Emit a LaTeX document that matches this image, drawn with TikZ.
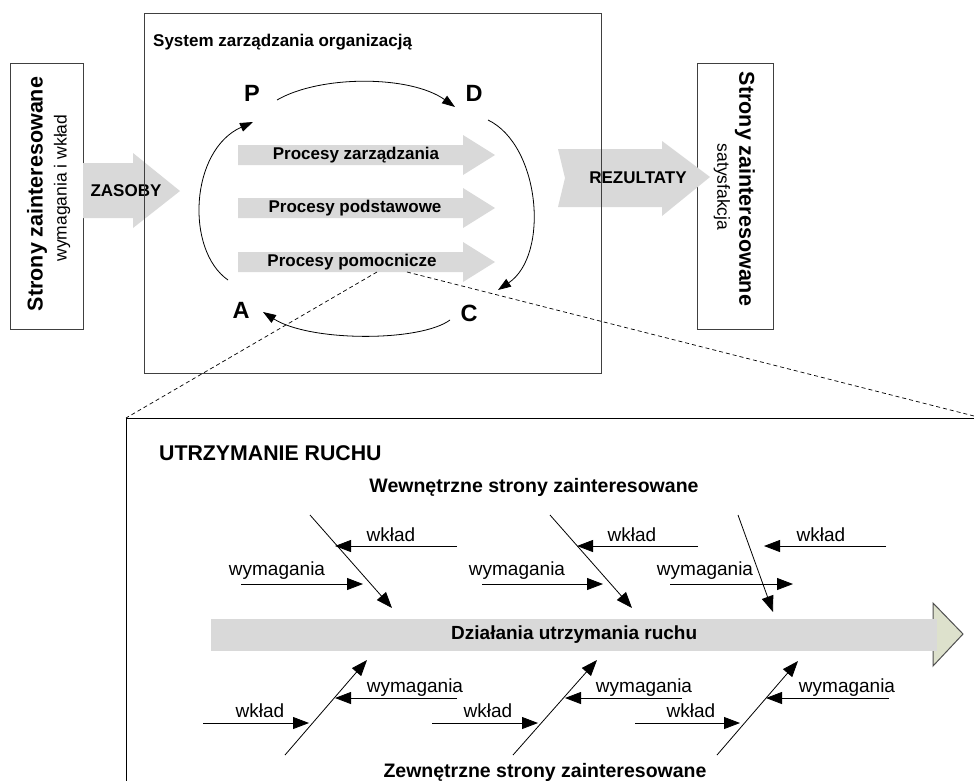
\documentclass[tikz,border=0pt]{standalone}
\usepackage{fontspec}
\setmainfont{Liberation Sans}
\usetikzlibrary{arrows.meta,calc}
\definecolor{procgray}{HTML}{D9D9D9}
\definecolor{headfill}{HTML}{DDE1CC}
\definecolor{headline}{HTML}{505050}
\definecolor{edgegray}{HTML}{404040}
\newcommand\fsz[1]{\fontsize{#1}{#1}\selectfont}

\begin{document}
\begin{tikzpicture}[x=1pt,y=-1pt,
  stakebox/.style={draw=edgegray,line width=1pt,fill=white,inner sep=0pt,anchor=north west},
  bigbold/.style={font=\bfseries\fsz{21.5},inner sep=0pt},
  subline/.style={font=\fsz{17.5},inner sep=0pt},
  procfill/.style={fill=procgray},
  proclabel/.style={font=\bfseries\fsz{17},inner sep=0pt},
  pdca/.style={font=\bfseries\fsz{23.5},inner sep=0pt},
  cyclearrow/.style={line width=0.8pt,-{Triangle[length=13pt,width=9pt]}},
  fisharrow/.style={line width=0.8pt,-{Triangle[length=16pt,width=12pt]}},
  fishlabel/.style={font=\fsz{19},inner sep=0pt,anchor=base},
  heading/.style={font=\bfseries\fsz{19.5},inner sep=0pt,anchor=base},
  leak/.style={line width=0.7pt,dash pattern=on 4pt off 3pt}
]
\useasboundingbox (0,0) rectangle (974,780);
\clip (0,0) rectangle (974,780);
\fill[white] (0,0) rectangle (974,780);

% stakeholder boxes
\node[stakebox,minimum width=73pt,minimum height=266pt] (lbox) at (10,63) {};
\node[stakebox,minimum width=76pt,minimum height=266pt] (rbox) at (697,63) {};
\node[bigbold,rotate=90] (lt1) at (37,194) {Strony zainteresowane};
\node[subline,rotate=90] (lt2) at (62,188) {wymagania i wkład};
\node[bigbold,rotate=-90] (rt1) at (745,189) {Strony zainteresowane};
\node[subline,rotate=-90] (rt2) at (722,187) {satysfakcja};

% input and output arrows
\fill[procfill] (83,163) -- (133,163) -- (133,153) -- (180,191) -- (133,228)
  -- (133,218) -- (83,218) -- cycle;
\fill[procfill] (558,149) -- (662,149) -- (662,141) -- (710,177) -- (662,216)
  -- (662,207) -- (558,207) -- (565,178) -- cycle;
\node[proclabel] (zasoby) at (126,191) {ZASOBY};
\node[proclabel] (rez) at (638,178) {REZULTATY};

% management system frame
\node[draw=edgegray,line width=1pt,inner sep=0pt,anchor=north west,
  minimum width=457pt,minimum height=360pt] (sys) at (144,13) {};
\node[font=\bfseries\fsz{17},inner sep=0pt,anchor=base west] (systitle) at (153,46)
  {System zarządzania organizacją};

% process arrows
\foreach \y in {155,208,262}
  \fill[procfill] (238,\y-10) -- (463,\y-10) -- (463,\y-20) -- (495,\y)
    -- (463,\y+20) -- (463,\y+10) -- (238,\y+10) -- cycle;
\node[proclabel] (pz) at (356,155) {Procesy zarządzania};
\node[proclabel] (pd) at (355,208) {Procesy podstawowe};
\node[proclabel] (pp) at (352,262) {Procesy pomocnicze};

% PDCA cycle
\node[pdca] (P) at (252,93) {P};
\node[pdca] (D) at (474,93) {D};
\node[pdca] (C) at (469,313) {C};
\node[pdca] (A) at (241,310) {A};
\draw[cyclearrow] ($(P)+(25,7)$) .. controls ($(P)+(68,-18)$) and ($(D)+(-64,-18)$) .. ($(D)+(-19,14)$);
\draw[cyclearrow] ($(D)+(14,27)$) .. controls ($(D)+(66,52)$) and ($(C)+(81,-58)$) .. ($(C)+(29,-23)$);
\draw[cyclearrow] ($(C)+(-19,7)$) .. controls ($(C)+(-49,29)$) and ($(A)+(69,32)$) .. ($(A)+(22,2)$);
\draw[cyclearrow] ($(A)+(-13,-30)$) .. controls ($(A)+(-56,-60)$) and ($(P)+(-62,57)$) .. ($(P)+(1,29)$);

% maintenance detail frame
\node[draw=black,line width=1pt,inner sep=0pt,anchor=north west,
  minimum width=1000pt,minimum height=500pt] (mb) at (126,418) {};
\coordinate (leakR) at (974,416);
\draw[leak] ($(pp)+(25,10)$) -- (mb.north west);
\draw[leak] ($(pp)+(55,10)$) -- (leakR);

\node[font=\bfseries\fsz{21.3},inner sep=0pt,anchor=base west] (ur) at (159,460) {UTRZYMANIE RUCHU};
\node[heading] (wew) at (534,492) {Wewnętrzne strony zainteresowane};
\node[heading] (zew) at (545,777) {Zewnętrzne strony zainteresowane};

% main spine
\fill[headfill,draw=headline,line width=1pt] (933,603) -- (963,634) -- (933,666) -- cycle;
\node[fill=procgray,inner sep=0pt,minimum width=726pt,minimum height=32pt,anchor=west,
  font=\bfseries\fsz{19}] (band) at (211,635) {Działania utrzymania ruchu};

% bones and side arrows
\foreach \n/\ax/\ay/\bx/\by in {
  u1/310/515/392/608, u2/550/515/632/608, u3/738/515/773/612,
  uk1/457/546/335/546, uk2/698/546/577/546, uk3/886/546/764/546,
  uw1/241/584/363/584, uw2/482/584/603/584, uw3/670/584/793/584,
  l1/285/755/367/660, l2/513/755/597/660, l3/717/755/798/661,
  lk1/203/723/309/723, lk2/432/723/538/723, lk3/635/723/740/723,
  lw1/457/698/335/698, lw2/682/698/565/698, lw3/889/698/766/698}
{
  \coordinate (\n-s) at (\ax,\ay);
  \coordinate (\n-e) at (\bx,\by);
  \draw[fisharrow] (\n-s) -- (\n-e);
}

\foreach \n/\x/\y/\t in {
  a1/391/541/wkład, a2/632/541/wkład, a3/821/541/wkład,
  b1/277/575/wymagania, b2/517/575/wymagania, b3/705/575/wymagania,
  c1/260/717/wkład, c2/488/717/wkład, c3/691/717/wkład,
  d1/415/692/wymagania, d2/644/692/wymagania, d3/847/692/wymagania}
  \node[fishlabel] (lab-\n) at (\x,\y) {\t};
\end{tikzpicture}
\end{document}
